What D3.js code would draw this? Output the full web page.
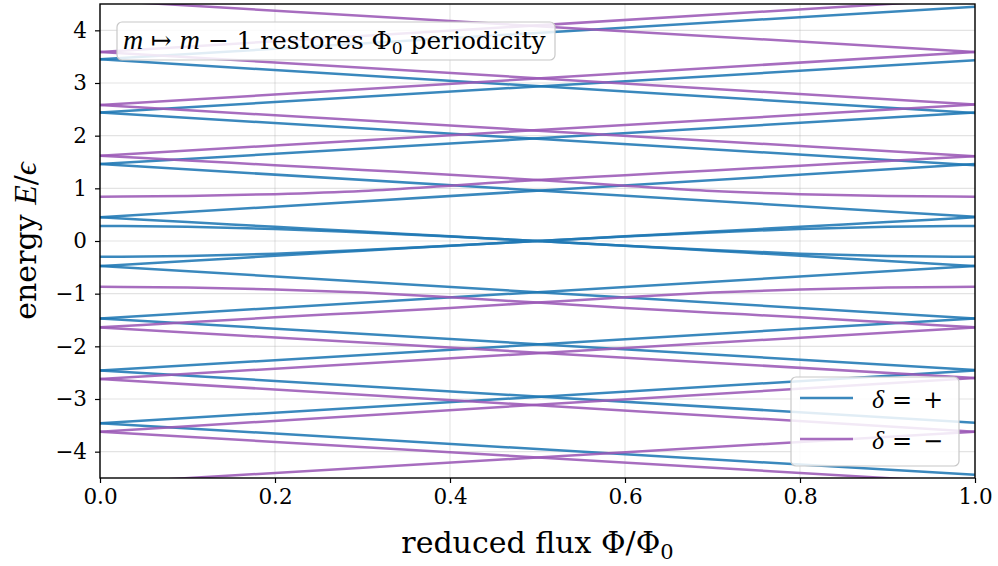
<!DOCTYPE html>
<html>
<head>
<meta charset="utf-8">
<script src="https://cdn.jsdelivr.net/npm/d3@7"></script>
<style>
  body { margin: 0; background: #fff; }
  text { font-family: 'DejaVu Serif', serif; fill: #000; }
  .math { font-family: 'Liberation Serif', 'DejaVu Serif', serif; font-style: italic; }
</style>
</head>
<body>
<svg id="chart" width="998" height="566"></svg>
<script>
// ticks
var fluxTicks = [0, 0.2, 0.4, 0.6, 0.8, 1.0];
var energyTicks = [-4, -3, -2, -1, 0, 1, 2, 3, 4];

// delta = + : straight levels, energy at flux 0 and at flux 1
var plusStart = [-3.46, -2.46, -1.47, 0.45, 1.46, 2.44, 3.45,
                 3.45, 2.44, 1.46, -0.475, -1.47, -2.46, -3.46];
var plusEnd   = [-2.46, -1.47, -0.475, 1.46, 2.44, 3.43, 4.45,
                 2.43, 1.44, 0.46, -1.47, -2.45, -3.45, -4.44];

// delta = - : straight levels
var minusStart = [-4.6, -3.62, -2.62, 1.62, 2.58, 3.59,
                  4.57, 3.59, 2.58, -1.64, -2.62, -3.62];
var minusEnd   = [-3.62, -2.6, -1.64, 2.59, 3.59, 4.6,
                  3.59, 2.59, 1.61, -2.6, -3.62, -4.6];

// bent levels near the gap, read at these flux values
var fluxSamples = [0, 0.1, 0.2, 0.3, 0.4, 0.5, 0.6, 0.7, 0.8, 0.9, 1.0];
var plusBent1 = [0.285, 0.27, 0.23, 0.16, 0.085, 0.0, -0.09, -0.185, -0.28, -0.38, -0.475];
var plusBent2 = [-0.3, -0.285, -0.24, -0.17, -0.09, 0.0, 0.09, 0.18, 0.27, 0.36, 0.45];
var plusBent3 = [0.45, 0.36, 0.27, 0.18, 0.09, 0.0, -0.09, -0.17, -0.24, -0.285, -0.3];
var plusBent4 = [-0.475, -0.38, -0.28, -0.185, -0.09, 0.0, 0.085, 0.16, 0.23, 0.27, 0.285];
var minusBent1 = [0.84, 0.855, 0.89, 0.95, 1.05, 1.16, 1.25, 1.34, 1.43, 1.52, 1.61];
var minusBent2 = [1.62, 1.53, 1.44, 1.35, 1.26, 1.16, 1.05, 0.95, 0.89, 0.855, 0.84];
var minusBent3 = [-0.87, -0.885, -0.92, -0.98, -1.07, -1.17, -1.27, -1.36, -1.45, -1.545, -1.64];
var minusBent4 = [-1.64, -1.545, -1.45, -1.36, -1.27, -1.17, -1.07, -0.98, -0.92, -0.885, -0.87];

var colPlus = '#1f77b4';
var colMinus = '#9b59b6';

var svg = d3.select('#chart');
var margin = { left: 100, right: 23, top: 4, bottom: 88 };
var W = 998, H = 566;

var x = d3.scaleLinear().domain([0, 1]).range([margin.left, W - margin.right]);
var y = d3.scaleLinear().domain([-4.5, 4.5]).range([H - margin.bottom, margin.top]);

svg.append('defs').append('clipPath').attr('id', 'clip')
	.append('rect')
	.attr('x', x(0)).attr('y', y(4.5))
	.attr('width', x(1) - x(0)).attr('height', y(-4.5) - y(4.5));

// grid
var grid = svg.append('g');
fluxTicks.forEach(function (t) {
	grid.append('line')
		.attr('x1', x(t)).attr('x2', x(t))
		.attr('y1', y(4.5)).attr('y2', y(-4.5))
		.attr('stroke', '#b0b0b0').attr('stroke-opacity', 0.35).attr('stroke-width', 1.1);
});
energyTicks.forEach(function (t) {
	grid.append('line')
		.attr('x1', x(0)).attr('x2', x(1))
		.attr('y1', y(t)).attr('y2', y(t))
		.attr('stroke', '#b0b0b0').attr('stroke-opacity', 0.35).attr('stroke-width', 1.1);
});

var line = d3.line()
	.x(function (d) { return x(d[0]); })
	.y(function (d) { return y(d[1]); })
	.curve(d3.curveMonotoneX);
var plot = svg.append('g').attr('clip-path', 'url(#clip)');

function drawPath(pts, color) {
	plot.append('path')
		.datum(pts)
		.attr('d', line)
		.attr('fill', 'none')
		.attr('stroke', color)
		.attr('stroke-width', 2.5)
		.attr('stroke-opacity', 0.88);
}
function drawLevels(starts, ends, bent, color) {
	starts.forEach(function (s, i) {
		drawPath([[0, s], [1, ends[i]]], color);
	});
	bent.forEach(function (vals) {
		drawPath(fluxSamples.map(function (f, i) { return [f, vals[i]]; }), color);
	});
}
drawLevels(plusStart, plusEnd, [plusBent1, plusBent2, plusBent3, plusBent4], colPlus);
drawLevels(minusStart, minusEnd, [minusBent1, minusBent2, minusBent3, minusBent4], colMinus);

// axes
var xAxis = svg.append('g').attr('transform', 'translate(0,' + y(-4.5) + ')')
	.call(d3.axisBottom(x).tickValues(fluxTicks).tickFormat(d3.format('.1f')).tickSize(5).tickPadding(6));
var yAxis = svg.append('g').attr('transform', 'translate(' + x(0) + ',0)')
	.call(d3.axisLeft(y).tickValues(energyTicks)
		.tickFormat(function (d) { return d < 0 ? '\u2212' + (-d) : d; })
		.tickSize(5).tickPadding(8));
[xAxis, yAxis].forEach(function (a) {
	a.select('.domain').remove();
	a.selectAll('line').attr('stroke', '#000').attr('stroke-width', 1.2);
	a.selectAll('text').attr('font-size', 21.5).attr('font-family', 'DejaVu Serif').attr('fill', '#000');
});

// frame
svg.append('rect')
	.attr('x', x(0)).attr('y', y(4.5))
	.attr('width', x(1) - x(0)).attr('height', y(-4.5) - y(4.5))
	.attr('fill', 'none').attr('stroke', '#000').attr('stroke-width', 1.4);

// axis labels
var xl = svg.append('text').attr('x', (x(0) + x(1)) / 2).attr('y', 553)
	.attr('text-anchor', 'middle').attr('font-size', 30);
xl.append('tspan').text('reduced flux \u03A6/\u03A6');
xl.append('tspan').attr('font-size', 21).attr('dy', 6).text('0');

var yl = svg.append('text')
	.attr('transform', 'translate(36,' + y(0) + ') rotate(-90)')
	.attr('text-anchor', 'middle').attr('font-size', 30);
yl.append('tspan').text('energy ');
yl.append('tspan').attr('class', 'math').attr('font-size', 32).text('E');
yl.append('tspan').text('/');
yl.append('tspan').attr('class', 'math').attr('font-size', 32).text('\u03F5');

// annotation box
svg.append('rect')
	.attr('x', 117).attr('y', 22).attr('width', 438).attr('height', 38).attr('rx', 5)
	.attr('fill', '#fff').attr('fill-opacity', 0.85)
	.attr('stroke', '#c8c8c8').attr('stroke-width', 1.2);
var note = svg.append('text').attr('x', 123).attr('y', 49).attr('font-size', 24.8);
note.append('tspan').attr('class', 'math').attr('font-size', 28).text('m');
note.append('tspan').text(' \u21A6 ');
note.append('tspan').attr('class', 'math').attr('font-size', 28).text('m');
note.append('tspan').text(' \u2212 1 restores \u03A6');
note.append('tspan').attr('font-size', 17).attr('dy', 5).text('0');
note.append('tspan').attr('dy', -5).text(' periodicity');

// legend
var lg = svg.append('g');
lg.append('rect')
	.attr('x', 791).attr('y', 377).attr('width', 168).attr('height', 89).attr('rx', 5)
	.attr('fill', '#fff').attr('fill-opacity', 0.85)
	.attr('stroke', '#c8c8c8').attr('stroke-width', 1.2);
[{ c: colPlus, s: '+', yy: 398 }, { c: colMinus, s: '\u2212', yy: 439 }].forEach(function (d) {
	lg.append('line').attr('x1', 800).attr('x2', 853).attr('y1', d.yy).attr('y2', d.yy)
		.attr('stroke', d.c).attr('stroke-width', 2.5).attr('stroke-opacity', 0.88);
	lg.append('text').attr('class', 'math').attr('x', 872).attr('y', d.yy + 10)
		.attr('font-size', 26).text('\u03B4');
	lg.append('text').attr('x', 902).attr('y', d.yy + 10).attr('text-anchor', 'middle')
		.attr('font-family', 'DejaVu Sans').attr('font-size', 24).text('=');
	lg.append('text').attr('x', 933).attr('y', d.yy + 10).attr('text-anchor', 'middle')
		.attr('font-family', 'DejaVu Sans').attr('font-size', 24).text(d.s);
});
</script>
</body>
</html>
